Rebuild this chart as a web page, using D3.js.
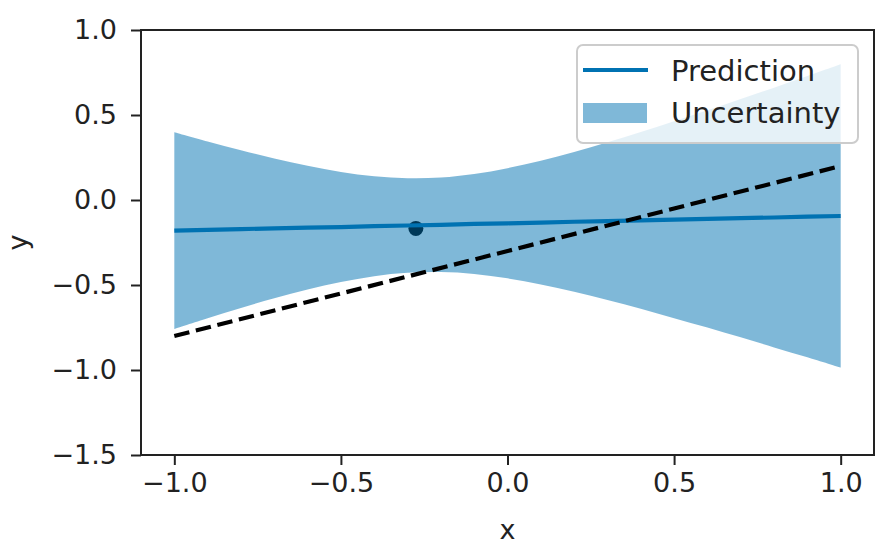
<!DOCTYPE html>
<html>
<head>
<meta charset="utf-8">
<script src="https://cdn.jsdelivr.net/npm/d3@7/dist/d3.min.js"></script>
<style>
  html, body { margin: 0; padding: 0; background: #fff; }
  svg { display: block; font-family: "DejaVu Sans", sans-serif; }
</style>
</head>
<body>
<svg id="chart" width="882" height="546"></svg>
<script>
// Grid of x positions where the posterior is sampled
const xGrid = [-1.0, -0.9, -0.8, -0.7, -0.6, -0.5, -0.4, -0.3, -0.2, -0.1, 0.0,
               0.1, 0.2, 0.3, 0.4, 0.5, 0.6, 0.7, 0.8, 0.9, 1.0];
// Posterior mean (prediction)
const predMean = [-0.180, -0.176, -0.171, -0.167, -0.163, -0.159, -0.154, -0.150, -0.146, -0.141, -0.137,
                  -0.133, -0.128, -0.124, -0.120, -0.116, -0.111, -0.107, -0.103, -0.098, -0.094];
// Uncertainty band edges
const bandUpper = [0.399, 0.344, 0.293, 0.244, 0.201, 0.165, 0.140, 0.128, 0.132, 0.153, 0.187,
                   0.231, 0.283, 0.340, 0.400, 0.463, 0.528, 0.594, 0.661, 0.729, 0.798];
const bandLower = [-0.759, -0.696, -0.635, -0.578, -0.527, -0.483, -0.448, -0.428, -0.424, -0.435, -0.461,
                   -0.497, -0.539, -0.588, -0.640, -0.695, -0.750, -0.808, -0.867, -0.925, -0.986];
// True underlying function
const truthX = [-1.0, 1.0];
const truthY = [-0.8, 0.2];
// Observed sample
const obsX = [-0.275];
const obsY = [-0.167];
// Axis ticks
const xTicks = [-1.0, -0.5, 0.0, 0.5, 1.0];
const yTicks = [-1.5, -1.0, -0.5, 0.0, 0.5, 1.0];
// Legend entries
const legendLabels = ["Prediction", "Uncertainty"];

const blue = "#0072b2";
const tickFont = 27;
const legendFont = 29;

const svg = d3.select("#chart");
const mLeft = 141, mRight = 874, mTop = 30, mBottom = 455;

const x = d3.scaleLinear().domain([-1.1, 1.1]).range([mLeft, mRight]);
const y = d3.scaleLinear().domain([-1.5, 1.0]).range([mBottom, mTop]);

const fmt = v => d3.format(".1f")(v).replace("-", "\u2212");

const plot = svg.append("g");

// observed point (sits underneath the band)
plot.selectAll("circle.obs").data(obsX).enter().append("circle")
  .attr("class", "obs")
  .attr("cx", d => x(d))
  .attr("cy", (d, i) => y(obsY[i]))
  .attr("r", 7.5)
  .attr("fill", "#000");

// uncertainty band
const area = d3.area()
  .x((d, i) => x(xGrid[i]))
  .y0((d, i) => y(bandLower[i]))
  .y1((d, i) => y(bandUpper[i]))
  .curve(d3.curveCatmullRom);
plot.append("path")
  .datum(xGrid)
  .attr("d", area)
  .attr("fill", blue)
  .attr("fill-opacity", 0.5);

// prediction line
const predLine = d3.line()
  .x((d, i) => x(xGrid[i]))
  .y((d, i) => y(predMean[i]));
plot.append("path")
  .datum(xGrid)
  .attr("d", predLine)
  .attr("fill", "none")
  .attr("stroke", blue)
  .attr("stroke-width", 4.2);

// true function (dashed)
const truthLine = d3.line()
  .x((d, i) => x(truthX[i]))
  .y((d, i) => y(truthY[i]));
plot.append("path")
  .datum(truthX)
  .attr("d", truthLine)
  .attr("fill", "none")
  .attr("stroke", "#000")
  .attr("stroke-width", 4.2)
  .attr("stroke-dasharray", "15.5,6.7");

// axes
const xAxis = d3.axisBottom(x).tickValues(xTicks).tickFormat(fmt).tickSize(10).tickPadding(8);
const yAxis = d3.axisLeft(y).tickValues(yTicks).tickFormat(fmt).tickSize(10).tickPadding(14);

const gx = svg.append("g").attr("transform", `translate(0,${mBottom})`).call(xAxis);
const gy = svg.append("g").attr("transform", `translate(${mLeft},0)`).call(yAxis);
[gx, gy].forEach(g => {
  g.select(".domain").remove();
  g.selectAll(".tick line").attr("stroke", "#222").attr("stroke-width", 2);
  g.selectAll(".tick text")
    .attr("fill", "#222")
    .style("font-size", tickFont + "px")
    .style("font-family", "DejaVu Sans");
});

// frame
svg.append("rect")
  .attr("x", mLeft).attr("y", mTop)
  .attr("width", mRight - mLeft).attr("height", mBottom - mTop)
  .attr("fill", "none")
  .attr("stroke", "#222")
  .attr("stroke-width", 2);

// axis labels
svg.append("text")
  .attr("x", (mLeft + mRight) / 2).attr("y", 539)
  .attr("text-anchor", "middle")
  .attr("fill", "#222")
  .style("font-size", tickFont + "px")
  .text("x");
svg.append("text")
  .attr("transform", `translate(27,${(mTop + mBottom) / 2}) rotate(-90)`)
  .attr("text-anchor", "middle")
  .attr("fill", "#222")
  .style("font-size", tickFont + "px")
  .text("y");

// legend
const lg = svg.append("g");
lg.append("rect")
  .attr("x", 577).attr("y", 45).attr("width", 281).attr("height", 98)
  .attr("rx", 6)
  .attr("fill", "#fff").attr("fill-opacity", 0.8)
  .attr("stroke", "#cccccc").attr("stroke-width", 2);
lg.append("line")
  .attr("x1", 583).attr("x2", 648).attr("y1", 70).attr("y2", 70)
  .attr("stroke", blue).attr("stroke-width", 4.2);
lg.append("rect")
  .attr("x", 583).attr("y", 103).attr("width", 64).attr("height", 20)
  .attr("fill", blue).attr("fill-opacity", 0.5);
lg.selectAll("text.lab").data(legendLabels).enter().append("text")
  .attr("class", "lab")
  .attr("x", 671)
  .attr("y", (d, i) => 81 + i * 42)
  .attr("fill", "#222")
  .style("font-size", legendFont + "px")
  .text(d => d);
</script>
</body>
</html>
